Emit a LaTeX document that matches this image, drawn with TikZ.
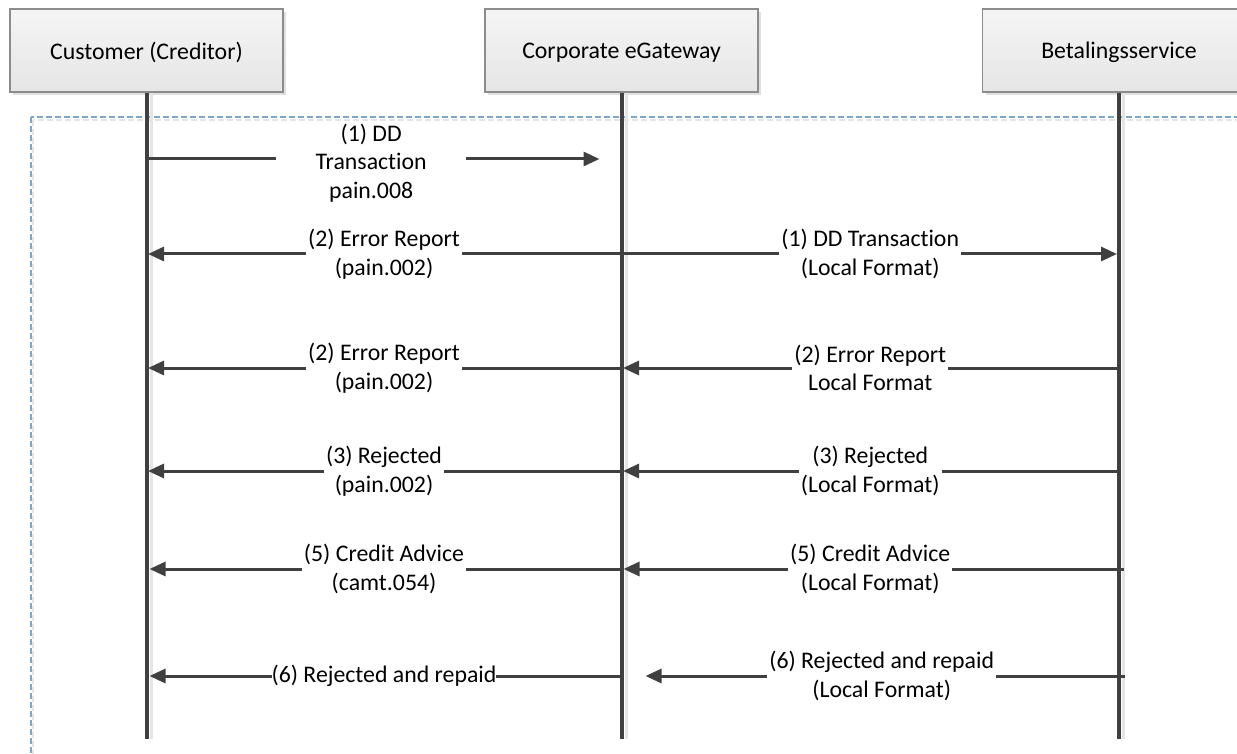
\documentclass[tikz,border=0pt]{standalone}
\usepackage{fontspec}
\setmainfont{Carlito}[Ligatures=NoCommon]
\usetikzlibrary{arrows.meta,shadows}
\definecolor{ln}{HTML}{404040}
\definecolor{bx}{HTML}{8C8C8C}
\definecolor{dsh}{HTML}{7EA6CC}
\begin{document}
\begin{tikzpicture}[x=1pt,y=-1pt,
  txt/.style={font=\fontsize{23.8}{28.5}\selectfont},
  actor/.style={txt, draw=bx, line width=1.3pt, top color=white!96!black, bottom color=white!90!black,
    minimum width=273pt, minimum height=83pt, inner sep=0pt, text depth=0pt,
    drop shadow={shadow xshift=3pt, shadow yshift=-3pt, fill=black!12, opacity=1}},
  lifeline/.style={line width=4pt, draw=ln},
  lshadow/.style={line width=3pt, draw=black!10},
  msg/.style={line width=3pt, draw=ln, -{Triangle[length=16pt,width=14pt]}},
  lbl/.style={txt, fill=white, inner xsep=2pt, inner ysep=0pt, align=center, text=black}]
\clip (0,0) rectangle (1237,754);
\fill[white] (0,0) rectangle (1237,754);
% dashed frame
\draw[black!10, line width=1.2pt, dash pattern=on 6pt off 3pt] (33,120) rectangle (1280,800);
\draw[dsh, line width=1.2pt, dash pattern=on 6pt off 3pt] (31,117) rectangle (1280,800);
% actors
\node[actor] (cust) at (146.5,50.5) {Customer (Creditor)};
\node[actor] (corp) at (621.5,50.5) {Corporate eGateway};
\node[actor] (bet) at (1119,50.5) {Betalingsservice};
\coordinate (bot) at (0,739);
% lifelines
\foreach \a in {cust,corp,bet}{
  \draw[lshadow] ([xshift=4.5pt]\a.south) -- ([xshift=4.5pt]\a.south |- bot);
  \draw[lifeline] (\a.south) -- (\a.south |- bot);
}
\coordinate (r1) at (0,159);
\coordinate (r2) at (0,254);
\coordinate (r3) at (0,368);
\coordinate (r4) at (0,471);
\coordinate (r5) at (0,569);
\coordinate (r6) at (0,676);
% row 1
\draw[msg, shorten >=22pt] (cust.south |- r1) -- node[lbl, pos=0.473, minimum width=190pt, yshift=-4pt] {(1) DD\\Transaction\\pain.008} (corp.south |- r1);
% row 2
\draw[msg, shorten >=1.5pt] (corp.south |- r2) -- node[lbl] {(2) Error Report\\(pain.002)} (cust.south |- r2);
\draw[msg, shorten >=2pt] (corp.south |- r2) -- node[lbl] {(1) DD Transaction\\(Local Format)} (bet.south |- r2);
% row 3
\draw[msg, shorten >=1.5pt] (corp.south |- r3) -- node[lbl] {(2) Error Report\\(pain.002)} (cust.south |- r3);
\draw[msg, shorten >=1.5pt] (bet.south |- r3) -- node[lbl] {(2) Error Report\\Local Format} (corp.south |- r3);
% row 4
\draw[msg, shorten >=1.5pt] (corp.south |- r4) -- node[lbl] {(3) Rejected\\(pain.002)} (cust.south |- r4);
\draw[msg, shorten >=1.5pt] (bet.south |- r4) -- node[lbl] {(3) Rejected\\(Local Format)} (corp.south |- r4);
% row 5
\draw[msg, shorten >=3pt] (corp.south |- r5) -- node[lbl] {(5) Credit Advice\\(camt.054)} (cust.south |- r5);
\draw[msg, shorten <=-5pt, shorten >=2pt] (bet.south |- r5) -- node[lbl] {(5) Credit Advice\\(Local Format)} (corp.south |- r5);
% row 6
\draw[msg, shorten >=3pt] (corp.south |- r6) -- node[lbl, inner xsep=0pt] {(6) Rejected and repaid} (cust.south |- r6);
\draw[msg, shorten <=-6pt, shorten >=24pt] (bet.south |- r6) -- node[lbl, pos=0.477] {(6) Rejected and repaid\\(Local Format)} (corp.south |- r6);
\end{tikzpicture}
\end{document}
